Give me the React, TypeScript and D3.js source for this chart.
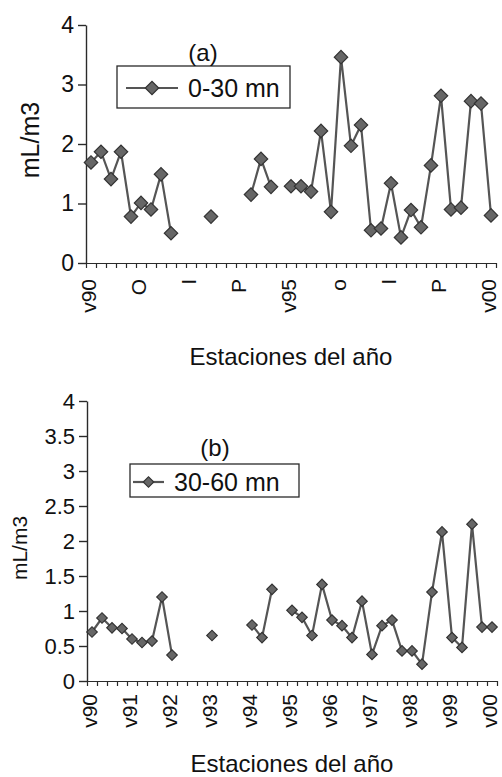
import React, { useRef, useEffect } from 'react';
import * as d3 from 'd3';

const WIDTH = 502;
const HEIGHT = 777;
const FONT = 'Liberation Sans, Arial, sans-serif';

// 41 estaciones: v90 ... v00 (verano, otoño, invierno, primavera)
const seasons = d3.range(41);

// (a) 0-30 mn
const values030: (number | null)[] = [
  1.69, 1.87, 1.41, 1.87, 0.78, 1.01, 0.90, 1.49, 0.50, null,
  null, null, 0.78, null, null, null, 1.15, 1.75, 1.28, null,
  1.29, 1.29, 1.20, 2.22, 0.86, 3.46, 1.97, 2.32, 0.55, 0.58,
  1.34, 0.43, 0.89, 0.60, 1.64, 2.81, 0.90, 0.93, 2.72, 2.68,
  0.80,
];

// (b) 30-60 mn
const values3060: (number | null)[] = [
  0.70, 0.90, 0.76, 0.75, 0.60, 0.55, 0.57, 1.20, 0.37, null,
  null, null, 0.65, null, null, null, 0.80, 0.62, 1.31, null,
  1.01, 0.91, 0.65, 1.38, 0.87, 0.79, 0.62, 1.14, 0.38, 0.79,
  0.87, 0.43, 0.43, 0.24, 1.27, 2.13, 0.62, 0.48, 2.24, 0.77,
  0.77,
];

const labelsA = ['v90', 'O', 'I', 'P', 'v95', 'o', 'I', 'P', 'v00'];
const labelsB = ['v90', 'v91', 'v92', 'v93', 'v94', 'v95', 'v96', 'v97', 'v98', 'v99', 'v00'];

const yTicksA = [0, 1, 2, 3, 4];
const yTicksB = [0, 0.5, 1, 1.5, 2, 2.5, 3, 3.5, 4];

const panels = [
  {
    values: values030, labels: labelsA, step: 5, yTicks: yTicksA,
    title: '(a)', legend: '0-30 mn', xTitle: 'Estaciones del año', yTitle: 'mL/m3',
    x0: 86, x1: 496, yTop: 25, yBottom: 263, yFont: 23, labelY: 279,
    titleX: 203, titleY: 61, yTitleX: 30, yTitleY: 140, yTitleFont: 25,
    box: { x: 117, y: 66, w: 173, h: 42 }, legX: 126, legText: 188, legY: 88,
    xTitleY: 365, marker: 90,
  },
  {
    values: values3060, labels: labelsB, step: 4, yTicks: yTicksB,
    title: '(b)', legend: '30-60 mn', xTitle: 'Estaciones del año', yTitle: 'mL/m3',
    x0: 87, x1: 497, yTop: 401, yBottom: 681, yFont: 22, labelY: 694,
    titleX: 215, titleY: 456, yTitleX: 20, yTitleY: 548, yTitleFont: 21,
    box: { x: 130, y: 464, w: 169, h: 33 }, legX: 133, legText: 174, legY: 482,
    xTitleY: 772, marker: 55,
  },
];

const ink = '#2a2a2a';
const lineColor = '#555';

const App = () => {
  const svgRef = useRef<SVGSVGElement>(null);

  useEffect(() => {
    const svg = d3.select(svgRef.current);
    svg.selectAll('*').remove();

    panels.forEach((p) => {
      const g = svg.append('g');
      const x = d3.scaleBand<number>().domain(seasons).range([p.x0, p.x1]);
      const cx = (i: number) => (x(i) as number) + x.bandwidth() / 2;
      const y = d3.scaleLinear().domain([0, 4]).range([p.yBottom, p.yTop]);

      // y axis
      const yAxis = d3.axisLeft(y)
        .tickValues(p.yTicks)
        .tickSize(8)
        .tickSizeOuter(0)
        .tickPadding(4)
        .tickFormat((d) => String(d));
      const ya = g.append('g').attr('transform', `translate(${p.x0},0)`).call(yAxis);
      ya.attr('font-family', FONT).attr('font-size', p.yFont);
      ya.selectAll('path, line').attr('stroke', ink).attr('stroke-width', 1.4);
      ya.selectAll('text').attr('fill', '#111');

      // x axis: ticks between seasons
      const xb = d3.scaleLinear().domain([0, seasons.length]).range([p.x0, p.x1]);
      const xAxis = d3.axisBottom(xb)
        .tickValues(d3.range(seasons.length + 1))
        .tickSize(5)
        .tickSizeOuter(0)
        .tickFormat(() => '');
      const xa = g.append('g').attr('transform', `translate(0,${p.yBottom})`).call(xAxis);
      xa.selectAll('path, line').attr('stroke', ink).attr('stroke-width', 1.2);

      g.selectAll('text.xlab')
        .data(p.labels)
        .join('text')
        .attr('class', 'xlab')
        .attr('transform', (_, i) => `translate(${cx(i * p.step) - 2},${p.labelY}) rotate(-90)`)
        .attr('text-anchor', 'end')
        .attr('dy', '0.35em')
        .attr('font-family', FONT)
        .attr('font-size', 21)
        .attr('fill', '#111')
        .text((d) => d);

      // series
      const line = d3.line<number | null>()
        .defined((d) => d != null)
        .x((_, i) => cx(i))
        .y((d) => y(d as number));
      g.append('path')
        .datum(p.values)
        .attr('d', line)
        .attr('fill', 'none')
        .attr('stroke', lineColor)
        .attr('stroke-width', 2.2);

      const sym = d3.symbol(d3.symbolSquare, p.marker);
      g.selectAll('path.pt')
        .data(p.values.map((v, i) => ({ v, i })).filter((d) => d.v != null))
        .join('path')
        .attr('class', 'pt')
        .attr('d', sym)
        .attr('transform', (d) => `translate(${cx(d.i)},${y(d.v as number)}) rotate(45)`)
        .attr('fill', '#666')
        .attr('stroke', '#333')
        .attr('stroke-width', 1.2);

      // legend
      g.append('rect')
        .attr('x', p.box.x).attr('y', p.box.y)
        .attr('width', p.box.w).attr('height', p.box.h)
        .attr('fill', 'white').attr('stroke', ink).attr('stroke-width', 1.3);
      g.append('line')
        .attr('x1', p.legX).attr('x2', p.legText - 10)
        .attr('y1', p.legY).attr('y2', p.legY)
        .attr('stroke', lineColor).attr('stroke-width', 2.2);
      g.append('path')
        .attr('d', sym)
        .attr('transform', `translate(${(p.legX + p.legText - 10) / 2},${p.legY}) rotate(45)`)
        .attr('fill', '#666').attr('stroke', '#333').attr('stroke-width', 1.2);
      g.append('text')
        .attr('x', p.legText).attr('y', p.legY)
        .attr('dy', '0.35em')
        .attr('font-family', FONT).attr('font-size', 25).attr('fill', '#111')
        .text(p.legend);

      // titles
      g.append('text')
        .attr('x', p.titleX).attr('y', p.titleY)
        .attr('text-anchor', 'middle')
        .attr('font-family', FONT).attr('font-size', 24).attr('fill', '#111')
        .text(p.title);
      g.append('text')
        .attr('x', (p.x0 + p.x1) / 2).attr('y', p.xTitleY)
        .attr('text-anchor', 'middle')
        .attr('font-family', FONT).attr('font-size', 24).attr('fill', '#111')
        .text(p.xTitle);
      g.append('text')
        .attr('transform', `translate(${p.yTitleX},${p.yTitleY}) rotate(-90)`)
        .attr('text-anchor', 'middle')
        .attr('dy', '0.35em')
        .attr('font-family', FONT).attr('font-size', p.yTitleFont).attr('fill', '#111')
        .text(p.yTitle);
    });
  }, []);

  return (
    <div style={{ position: 'absolute', left: 0, top: 0, background: 'white' }}>
      <svg ref={svgRef} width={WIDTH} height={HEIGHT} style={{ display: 'block' }} />
    </div>
  );
};

export default App;
